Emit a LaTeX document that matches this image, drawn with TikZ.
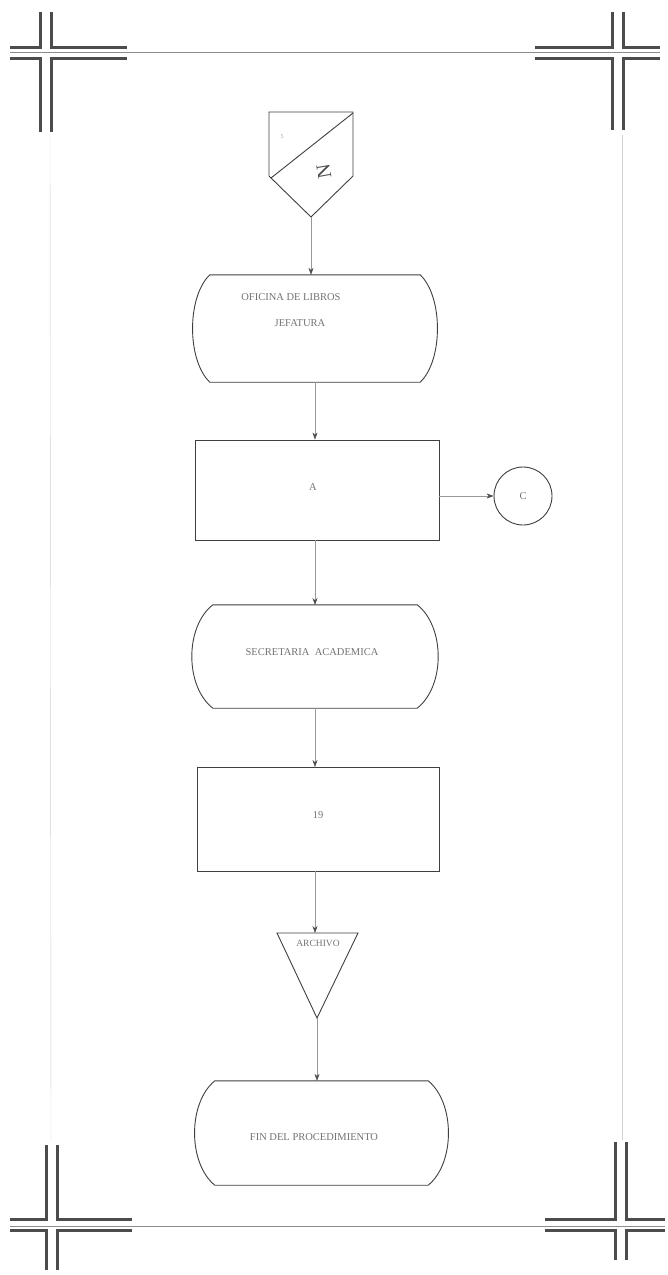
\documentclass[tikz,border=0pt]{standalone}
\usepackage{fontspec}
\setmainfont{Liberation Serif}
\usetikzlibrary{arrows.meta,calc}
\begin{document}
\begin{tikzpicture}[x=1pt,y=-1pt,
  shp/.style={draw=black!75,line width=0.9pt},
  lbl/.style={text=black!55,font=\fontsize{10.5}{12}\selectfont,inner sep=0pt},
  conn/.style={draw=black!40,line width=0.5pt,-{Stealth[length=7pt,width=5pt,color=black!70]}},
  box/.style={rectangle,inner sep=0pt},
  markdark/.style={draw=black!70,line width=14.5pt},
  markwhite/.style={draw=white,line width=8.5pt},
  thinln/.style={draw=black!45,line width=0.5pt},
  faint/.style={draw=black!18,line width=0.4pt}]
\useasboundingbox[fill=white] (0,0) rectangle (667,1275);
\newcommand\termoutline[2]{%
  \draw[shp] (#1.north west) -- (#1.north east)
    .. controls ($(#1.north east)+(#2,22)$) and ($(#1.south east)+(#2,-22)$) .. (#1.south east)
    -- (#1.south west)
    .. controls ($(#1.south west)+(-#2,-22)$) and ($(#1.north west)+(-#2,22)$) .. (#1.north west);}
% faint side lines
\draw[faint] (50,135) -- (51,1140);
\draw[faint] (622,135) -- (622,1140);
% corner marks
\foreach \cx/\cy/\ya/\yb/\xa/\xb in {46/53/12/132/10/127, 618/53/12/130/535/660, 52/1225/1145/1270/10/132, 621/1225/1142/1260/545/665}{
  \draw[markdark] (\xa,\cy) -- (\xb,\cy);
  \draw[markdark] (\cx,\ya) -- (\cx,\yb);
  \draw[markwhite] (\xa-1.5,\cy) -- (\xb+1.5,\cy);
  \draw[markwhite] (\cx,\ya-1.5) -- (\cx,\yb+1.5);
}
\draw[thinln] (10,52) -- (660,52);
\draw[thinln] (10,1226) -- (665,1226);
% off-page connector
\coordinate (oc) at (311,217);
\draw[shp] (269,112) -- (353,112) -- (353,176) -- (oc) -- (269,176) -- cycle;
\draw[shp] (353,113) -- (271,178);
\node[lbl,font=\fontsize{6}{7}\selectfont,text=black!35] (ocn) at (282,137) {5};
\node[lbl,font=\fontsize{20}{22}\selectfont,text=black!70,rotate=100] (ocz) at (324,172) {N};
% terminal 1
\node[box,minimum width=210,minimum height=107] (t1) at (315,328.5) {};
\termoutline{t1}{23}
\node[lbl] (t1a) at (291,297) {OFICINA DE LIBROS};
\node[lbl] (t1b) at (300,323) {JEFATURA};
% rect 1
\node[box,shp,minimum width=244,minimum height=100] (r1) at (317,490) {};
\node[lbl] (r1t) at (313,487) {A};
% circle
\node[circle,shp,minimum size=58,inner sep=0pt] (c1) at (523,496) {};
\node[lbl] (c1t) at (523,496) {C};
% terminal 2
\node[box,minimum width=204,minimum height=103] (t2) at (315,656.5) {};
\termoutline{t2}{28}
\node[lbl] (t2t) at (312,652) {SECRETARIA\ \ ACADEMICA};
% rect 2
\node[box,shp,minimum width=242,minimum height=104] (r2) at (318,819) {};
\node[lbl] (r2t) at (318,815) {19};
% triangle
\coordinate (trl) at (277,933);
\coordinate (trr) at (358,933);
\coordinate (tra) at (317,1018);
\coordinate (trt) at (315,933);
\draw[shp] (trl) -- (trr) -- (tra) -- cycle;
\node[lbl,font=\fontsize{9.5}{11}\selectfont] (trx) at (318,943) {ARCHIVO};
% terminal 3
\node[box,minimum width=213,minimum height=104] (t3) at (321.5,1133) {};
\termoutline{t3}{27}
\node[lbl] (t3t) at (314,1137) {FIN DEL PROCEDIMIENTO};
% connectors
\draw[conn] (oc) -- (oc |- t1.north);
\draw[conn] (315,382) -- (r1.north -| 315,0);
\draw[conn] (r1.east |- 0,496) -- (c1.west);
\draw[conn] (315,540) -- (315,605);
\draw[conn] (315,708) -- (315,767);
\draw[conn] (315,871) -- (trt);
\draw[conn] (tra) -- (tra |- t3.north);
\end{tikzpicture}
\end{document}
